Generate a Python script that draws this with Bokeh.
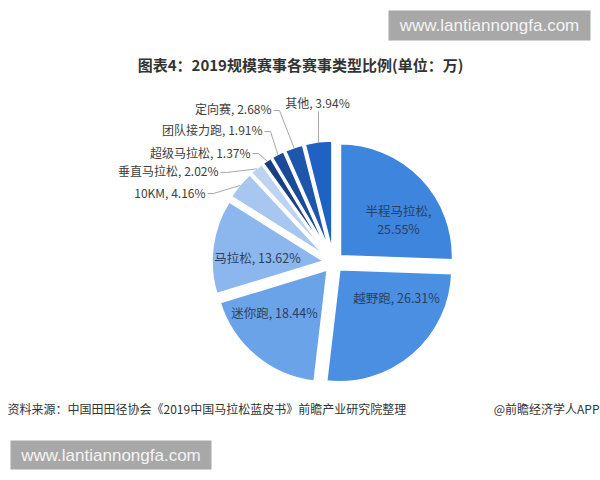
import math
from bokeh.plotting import figure
from bokeh.models import Range1d, ColumnDataSource
from bokeh.core.properties import value
from bokeh.embed import file_html
from bokeh.resources import INLINE

# ---- data ----
categories = ["半程马拉松", "越野跑", "迷你跑", "马拉松", "10KM",
              "垂直马拉松", "超级马拉松", "团队接力跑", "定向赛", "其他"]
shares = [25.55, 26.31, 18.44, 13.62, 4.16, 2.02, 1.37, 1.91, 2.68, 3.94]
colors = ["#3d85dd", "#4a8fe2", "#6ba3e8", "#8bb7ee", "#a7c7f1",
          "#bcd3f2", "#173f82", "#1b4b97", "#1d56ab", "#1f62c4"]
title_text = "图表4：2019规模赛事各赛事类型比例(单位：万)"
source_text = "资料来源：中国田田径协会《2019中国马拉松蓝皮书》前瞻产业研究院整理"
brand_text = "@前瞻经济学人APP"
watermark = "www.lantiannongfa.com"

FONT = value("Noto Sans CJK SC")
W, H = 600, 480


def Y(img_y):
    return 480 - img_y


p = figure(width=W, height=H, output_backend="svg", toolbar_location=None,
           x_range=Range1d(0, 600), y_range=Range1d(0, 480),
           x_axis_type=None, y_axis_type=None, min_border=0)
p.grid.visible = False
p.outline_line_color = None
p.background_fill_color = "white"
p.border_fill_color = "white"

# ---- pie geometry (layout) ----
cx, cy = 333, Y(262)
r = 113
explode = 9

total = sum(shares)
starts, ends, xs, ys, mids = [], [], [], [], []
cum = 0.0
for v in shares:
    a0 = math.pi / 2 - 2 * math.pi * cum / total
    a1 = a0 - 2 * math.pi * v / total
    m = (a0 + a1) / 2
    starts.append(a1)
    ends.append(a0)
    mids.append(m)
    xs.append(cx + explode * math.cos(m))
    ys.append(cy + explode * math.sin(m))
    cum += v

src = ColumnDataSource(dict(x=xs, y=ys, s=starts, e=ends, c=colors))
p.wedge(x="x", y="y", radius=r, start_angle="s", end_angle="e",
        fill_color="c", line_color="white", line_width=2.5, source=src)

labels = [f"{c}, {v:.2f}%" for c, v in zip(categories, shares)]

# inside labels (index -> position)
inside = {1: (396, 297), 2: (274, 312), 3: (257, 257)}
for i, (lx, ly) in inside.items():
    p.text(x=[lx], y=[Y(ly)], text=[labels[i]], text_font=FONT,
           text_font_size="12.5px", text_color="#2b3f63",
           text_align="center", text_baseline="middle")
# half marathon label in two lines
p.text(x=[398, 398], y=[Y(210), Y(228)],
       text=[categories[0] + ",", f"{shares[0]:.2f}%"], text_font=FONT,
       text_font_size="12.5px", text_color="#2b3f63",
       text_align="center", text_baseline="middle")

# outside labels: index -> (anchor x, y, align, leader start)
outside = {
    4: (205, 192, "right", (207, 193)),
    5: (218, 170, "right", (220, 172)),
    6: (250, 152, "right", (252, 153)),
    7: (262, 129, "right", (264, 131)),
    8: (271, 108, "right", (273, 110)),
    9: (317, 102, "center", (318, 111)),
}
for i, (lx, ly, al, (sx, sy)) in outside.items():
    p.text(x=[lx], y=[Y(ly)], text=[labels[i]], text_font=FONT,
           text_font_size="12px", text_color="#404040",
           text_align=al, text_baseline="middle")
    m = mids[i]
    ex = cx + (explode + r - 1) * math.cos(m)
    ey = cy + (explode + r - 1) * math.sin(m)
    if al == "center":
        lxs = [sx, ex]
        lys = [Y(sy), ey]
    else:
        lxs = [sx, sx + 6, ex]
        lys = [Y(sy), Y(sy), ey]
    p.line(x=lxs, y=lys, line_color="#a8a8a8", line_width=1)

# title
p.text(x=[300], y=[Y(64)], text=[title_text], text_font=FONT,
       text_font_size="15px", text_font_style="bold", text_color="#333333",
       text_align="center", text_baseline="middle")

# source line
p.text(x=[7], y=[Y(408)], text=[source_text], text_font=FONT,
       text_font_size="12px", text_color="#333333",
       text_align="left", text_baseline="middle")
p.text(x=[599], y=[Y(408)], text=[brand_text], text_font=FONT,
       text_font_size="12px", text_color="#333333",
       text_align="right", text_baseline="middle")

# watermark boxes
p.quad(left=[388, 10], right=[590, 211], top=[Y(10), Y(440)],
       bottom=[Y(40), Y(469)], fill_color="#a8a8a8", line_color=None)
p.text(x=[489, 110.5], y=[Y(25), Y(454.5)], text=[watermark, watermark],
       text_font=value("Liberation Sans"), text_font_size="17px",
       text_color="#f4f4f4", text_align="center", text_baseline="middle")

open("out.html", "w").write(file_html(p, INLINE))
